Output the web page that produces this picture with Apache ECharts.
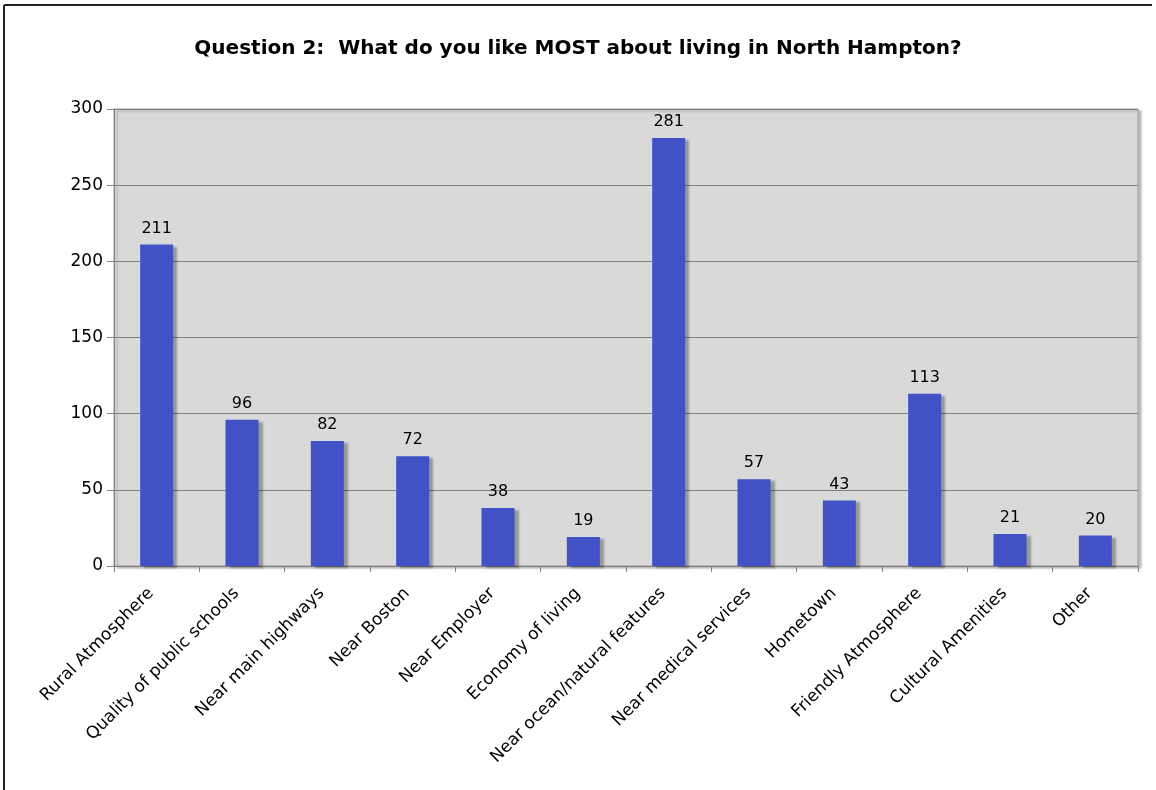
<!DOCTYPE html>
<html>
<head>
<meta charset="utf-8">
<script src="https://cdn.jsdelivr.net/npm/echarts@6/dist/echarts.min.js"></script>
<style>
  html, body { margin: 0; padding: 0; background: #fff; }
  #chart { width: 1156px; height: 790px; }
</style>
</head>
<body>
<div id="chart"></div>
<script>
// Survey responses: what residents like most about living in North Hampton
const categories = [
  'Rural Atmosphere', 'Quality of public schools', 'Near main highways', 'Near Boston',
  'Near Employer', 'Economy of living', 'Near ocean/natural features', 'Near medical services',
  'Hometown', 'Friendly Atmosphere', 'Cultural Amenities', 'Other'
];
const responses = [211, 96, 82, 72, 38, 19, 281, 57, 43, 113, 21, 20];
const yTicks = [0, 50, 100, 150, 200, 250, 300];

const FONT = '"DejaVu Sans", Verdana, sans-serif';

const chart = echarts.init(document.getElementById('chart'), null, { renderer: 'canvas' });

chart.setOption({
  backgroundColor: '#ffffff',
  animation: false,
  title: {
    text: 'Question 2:  What do you like MOST about living in North Hampton?',
    left: 'center',
    top: 34,
    textStyle: { fontFamily: FONT, fontSize: 20, fontWeight: 'bold', color: '#000' }
  },
  graphic: [
    // page frame along the top and left edges
    { type: 'line', shape: { x1: 4, y1: 5, x2: 1152, y2: 5 }, style: { stroke: '#222', lineWidth: 2 } },
    { type: 'line', shape: { x1: 4, y1: 5, x2: 4, y2: 790 }, style: { stroke: '#222', lineWidth: 2 } }
  ],
  grid: {
    left: 114, right: 18, top: 109, bottom: 224,
    show: true,
    backgroundColor: '#d9d9d9',
    borderColor: '#9a9a9a',
    borderWidth: 1,
    shadowColor: 'rgba(0,0,0,0.25)',
    shadowOffsetX: 3,
    shadowOffsetY: 2,
    shadowBlur: 2
  },
  xAxis: {
    type: 'category',
    data: categories,
    axisLine: { show: true, lineStyle: { color: '#808080', width: 1 } },
    axisTick: { show: true, alignWithLabel: false, length: 6, lineStyle: { color: '#808080' } },
    axisLabel: {
      interval: 0,
      rotate: 45,
      margin: 19,
      padding: [0, 8, 0, 0],
      fontFamily: FONT,
      fontSize: 17,
      color: '#000'
    }
  },
  yAxis: {
    type: 'value',
    min: yTicks[0],
    max: yTicks[yTicks.length - 1],
    interval: 50,
    axisLine: { show: true, lineStyle: { color: '#808080' } },
    axisTick: { show: true, length: 7, lineStyle: { color: '#808080' } },
    splitLine: { show: true, lineStyle: { color: '#808080', width: 1 } },
    axisLabel: { fontFamily: FONT, fontSize: 17, color: '#000', margin: 11 }
  },
  series: [{
    type: 'bar',
    data: responses,
    barWidth: 33,
    itemStyle: {
      color: '#4052c6',
      shadowColor: 'rgba(0,0,0,0.3)',
      shadowOffsetX: 4,
      shadowOffsetY: 2,
      shadowBlur: 2
    },
    label: {
      show: true,
      position: 'top',
      distance: 8,
      fontFamily: FONT,
      fontSize: 16,
      color: '#000'
    }
  }]
});
</script>
</body>
</html>
